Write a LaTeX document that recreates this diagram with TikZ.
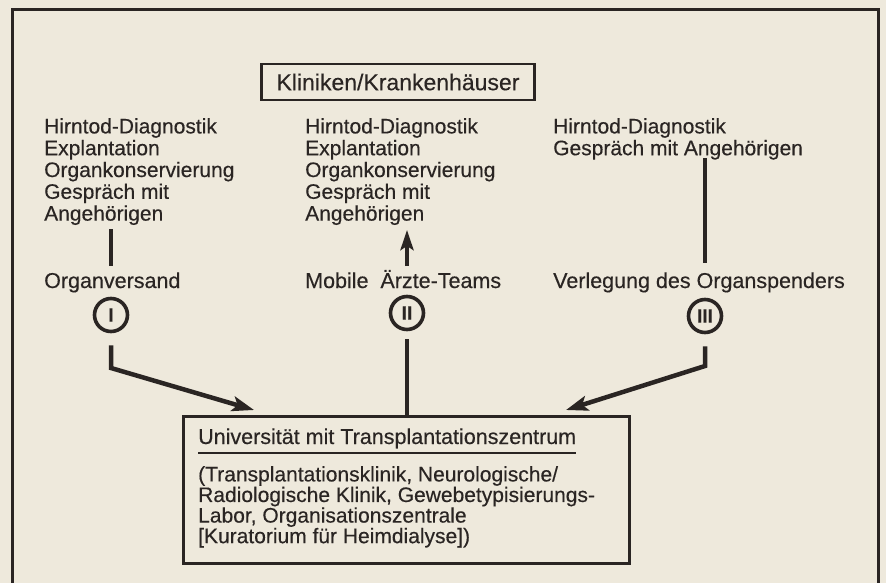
\documentclass[tikz,border=0pt]{standalone}
\usepackage{fontspec}
\setmainfont{Liberation Sans}[FakeBold=0.35]
\usetikzlibrary{arrows.meta}
\definecolor{paper}{HTML}{EEE9DC}
\definecolor{ink}{HTML}{2A2523}
\begin{document}
\begin{tikzpicture}[x=1pt,y=-1pt,
  txt/.style={font=\fontsize{21}{21.8}\selectfont, text=ink, align=left, inner sep=0pt, anchor=north west},
  lbl/.style={font=\fontsize{21.5}{22}\selectfont, text=ink, inner sep=0pt, anchor=base west},
  ring/.style={circle, draw=ink, line width=3.6pt, minimum size=33pt, inner sep=0pt, font=\fontsize{19}{19}\selectfont\bfseries, text=ink},
  bar/.style={draw=ink, line width=4.5pt},
  arr/.style={draw=ink, line width=4.5pt, line join=miter, -{Stealth[length=22pt,width=15pt,inset=5pt]}},
  boxline/.style={draw=ink, line width=2.5pt}
]
\fill[paper] (0,0) rectangle (886,583);
\useasboundingbox (0,0) rectangle (886,583);
% outer frame (open at the bottom)
\draw[draw=ink, line width=3pt] (12,600) -- (12,10) -- (878,10) -- (878,600);

% top box
\node[boxline, minimum width=273pt, minimum height=36pt, inner sep=0pt, font=\fontsize{23}{23}\selectfont, text=ink] (kli) at (398,82) {Kliniken/Krankenhäuser};

% column texts
\node[txt] (c1) at (44,118) {Hirntod-Diagnostik\\Explantation\\Organkonservierung\\Gespräch mit\\Angehörigen};
\node[txt] (c2) at (305,118) {Hirntod-Diagnostik\\Explantation\\Organkonservierung\\Gespräch mit\\Angehörigen};
\node[txt] (c3) at (553,118) {Hirntod-Diagnostik\\Gespräch mit Angehörigen};

% mode labels
\node[lbl] (l1) at (44,288) {Organversand};
\node[lbl] (l2) at (305,288) {Mobile\ \ Ärzte-Teams};
\node[lbl] (l3) at (553,288) {Verlegung des Organspenders};

% numbered rings
\node[ring] (r1) at (111,315) {I};
\node[ring] (r2) at (407,313) {II};
\node[ring] (r3) at (705,316) {III};

% university box
\node[boxline, minimum width=446pt, minimum height=147pt, inner sep=0pt, anchor=north west] (uni) at (182,415) {};
\node[lbl, font=\fontsize{21.5}{21}\selectfont] (unititle) at (198,444) {Universität mit Transplantationszentrum};
\draw[draw=ink, line width=2pt] (unititle.south west) ++(0,4) coordinate (ul1) -- (ul1 -| unititle.east);
\node[txt, font=\fontsize{21}{17.3}\selectfont] (unibody) at (198,466) {(Transplantationsklinik, Neurologische/\\Radiologische Klinik, Gewebetypisierungs-\\Labor, Organisationszentrale\\{[}Kuratorium für Heimdialyse{]})};

% connectors column I
\coordinate (b1a) at (111,229);
\coordinate (b1b) at (111,266);
\draw[bar] (b1a) -- (b1b);
\coordinate (k1) at (111,368);
\coordinate (t1) at (254,410);
\draw[arr] ([yshift=-12pt]r1.south) -- (k1) -- (t1);

% connectors column II
\coordinate (a2a) at (407,266);
\coordinate (a2b) at (407,230);
\draw[arr, -{Stealth[length=20pt,width=13pt,inset=4pt]}] (a2a) -- (a2b);
\draw[bar] (uni.north -| r2) -- ([yshift=-8pt]r2.south);

% connectors column III
\coordinate (b3a) at (705,158);
\coordinate (b3b) at (705,263);
\draw[bar] (b3a) -- (b3b);
\coordinate (k3) at (705,366);
\coordinate (t3) at (566,410);
\draw[arr] ([yshift=-12pt]r3.south) -- (k3) -- (t3);
\end{tikzpicture}
\end{document}
